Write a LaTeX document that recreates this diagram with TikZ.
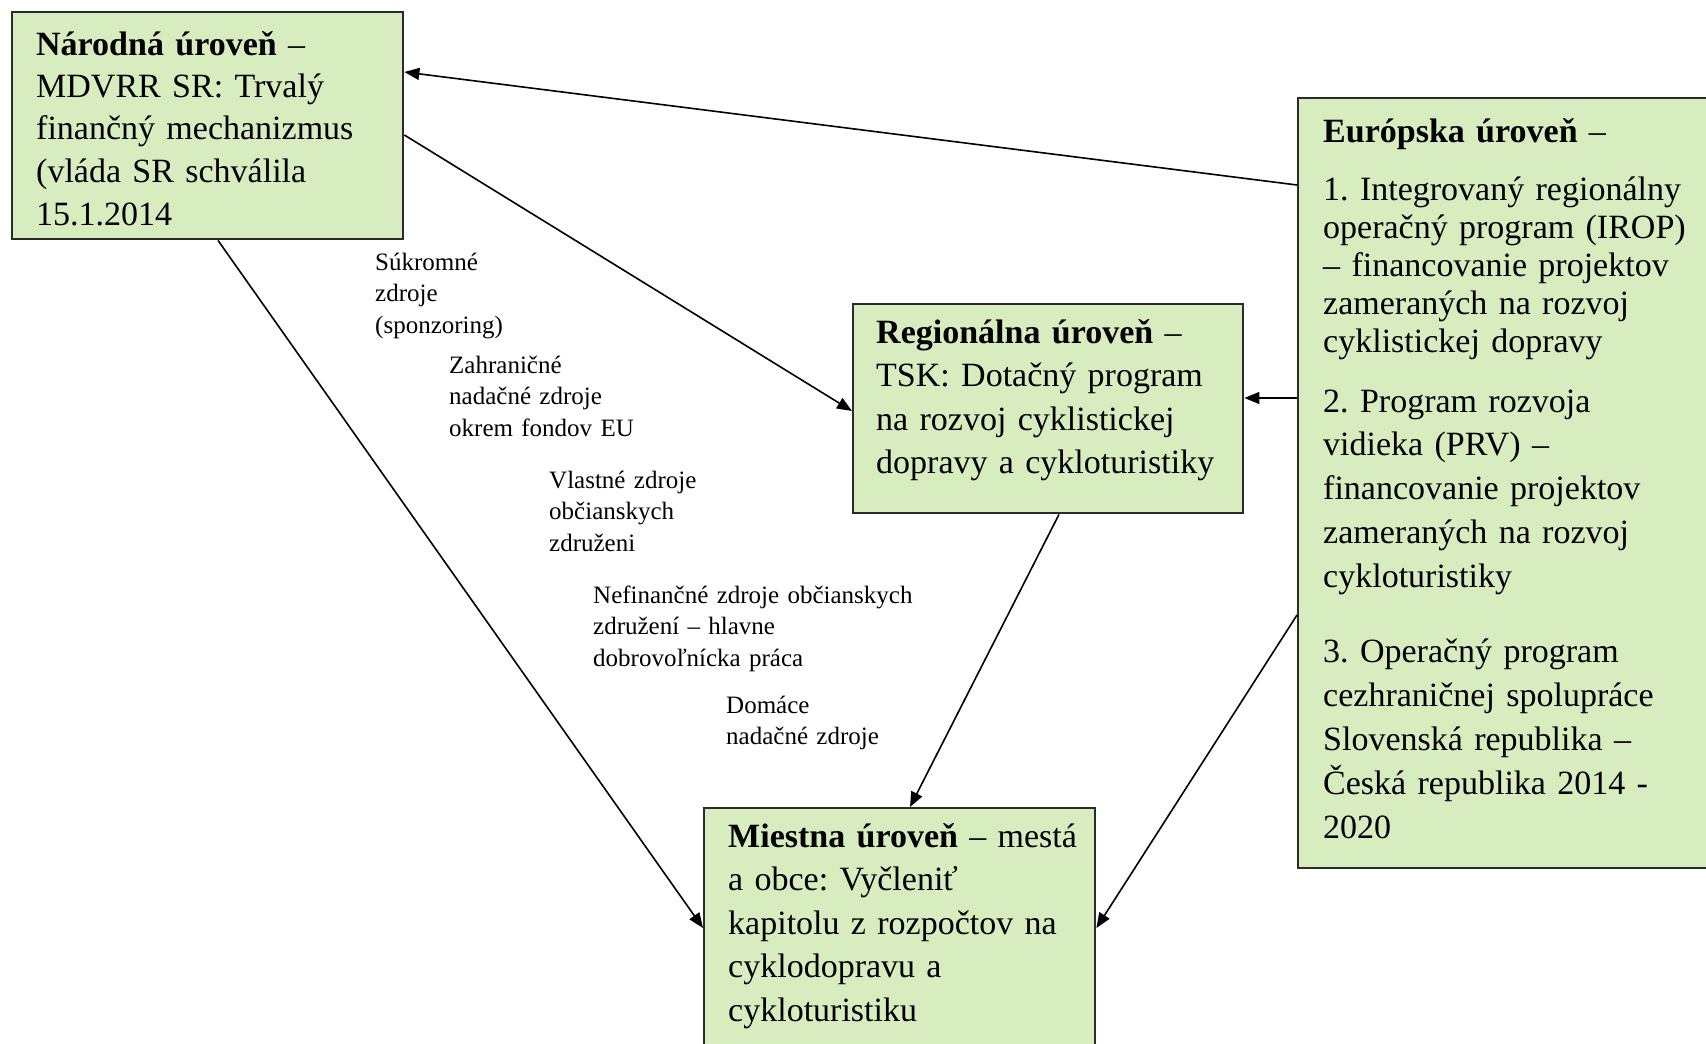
\documentclass[tikz,border=0pt]{standalone}
\usepackage{fontspec}
\setmainfont{Liberation Serif}
\frenchspacing
\usetikzlibrary{arrows.meta}
\definecolor{boxfill}{HTML}{D7EDC0}
\definecolor{boxline}{HTML}{2B2B2B}
\begin{document}
\frenchspacing
\begin{tikzpicture}[x=1pt,y=-1pt,
  levelbox/.style={draw=boxline, line width=2.4pt, fill=boxfill, rectangle, inner sep=0pt, anchor=north west},
  boxtext/.style={anchor=base west, inner sep=0pt, text width=380pt, align=left},
  bigfont/.style={font=\fontsize{34}{#1}\selectfont},
  srctext/.style={anchor=base west, inner sep=0pt, text width=340pt, align=left, font=\fontsize{25}{31.8}\selectfont},
  conn/.style={line width=1.6pt, draw=black, -{Triangle[length=15pt,width=12pt]}}]
\useasboundingbox (0,0) rectangle (1706,1044);
\fill[white] (0,0) rectangle (1706,1044);

% boxes
\node[levelbox, minimum width=391pt, minimum height=227pt] (nat) at (11,11) {};
\node[levelbox, minimum width=390pt, minimum height=209pt] (reg) at (852,303) {};
\node[levelbox, minimum width=420pt, minimum height=770pt] (eur) at (1297,97) {};
\node[levelbox, minimum width=391pt, minimum height=260pt] (mies) at (703,807) {};

% box texts
\node[boxtext, bigfont=42.5] (tnat) at (36,55) {\textbf{Národná úroveň} –\\MDVRR SR: Trvalý\\finančný mechanizmus\\(vláda SR schválila\\15.1.2014};
\node[boxtext, bigfont=43.5] (treg) at (876,343) {\textbf{Regionálna úroveň} –\\TSK: Dotačný program\\na rozvoj cyklistickej\\dopravy a cykloturistiky};
\node[boxtext, bigfont=43] (teur0) at (1323,142) {\textbf{Európska úroveň} –};
\node[boxtext, bigfont=38] (teur1) at (1323,200) {1. Integrovaný regionálny\\operačný program (IROP)\\– financovanie projektov\\zameraných na rozvoj\\cyklistickej dopravy};
\node[boxtext, bigfont=43.8] (teur2) at (1323,412) {2. Program rozvoja\\vidieka (PRV) –\\financovanie projektov\\zameraných na rozvoj\\cykloturistiky};
\node[boxtext, bigfont=44] (teur3) at (1323,662) {3. Operačný program\\cezhraničnej spolupráce\\Slovenská republika –\\Česká republika 2014 -\\2020};
\node[boxtext, bigfont=43.5] (tmies) at (728,847) {\textbf{Miestna úroveň} – mestá\\a obce: Vyčleniť\\kapitolu z rozpočtov na\\cyklodopravu a\\cykloturistiku};

% source labels
\node[srctext] (s1) at (375,270) {Súkromné\\zdroje\\(sponzoring)};
\node[srctext] (s2) at (449,373) {Zahraničné\\nadačné zdroje\\okrem fondov EU};
\node[srctext] (s3) at (549,488) {Vlastné zdroje\\občianskych\\združeni};
\node[srctext] (s4) at (593,603) {Nefinančné zdroje občianskych\\združení – hlavne\\dobrovoľnícka práca};
\node[srctext] (s5) at (726,713) {Domáce\\nadačné zdroje};

% connectors
\draw[conn] (eur.west |- 0,185) -- (nat.east |- 0,72);
\draw[conn] (nat.east |- 0,135) -- (reg.west |- 0,411);
\draw[conn] (eur.west |- 0,398) -- (reg.east |- 0,398);
\draw[conn] (nat.south -| 218,0) -- (mies.west |- 0,928);
\draw[conn] (reg.south -| 1059,0) -- (mies.north -| 910,0);
\draw[conn] (eur.west |- 0,615) -- (mies.east |- 0,928);
\end{tikzpicture}
\end{document}
